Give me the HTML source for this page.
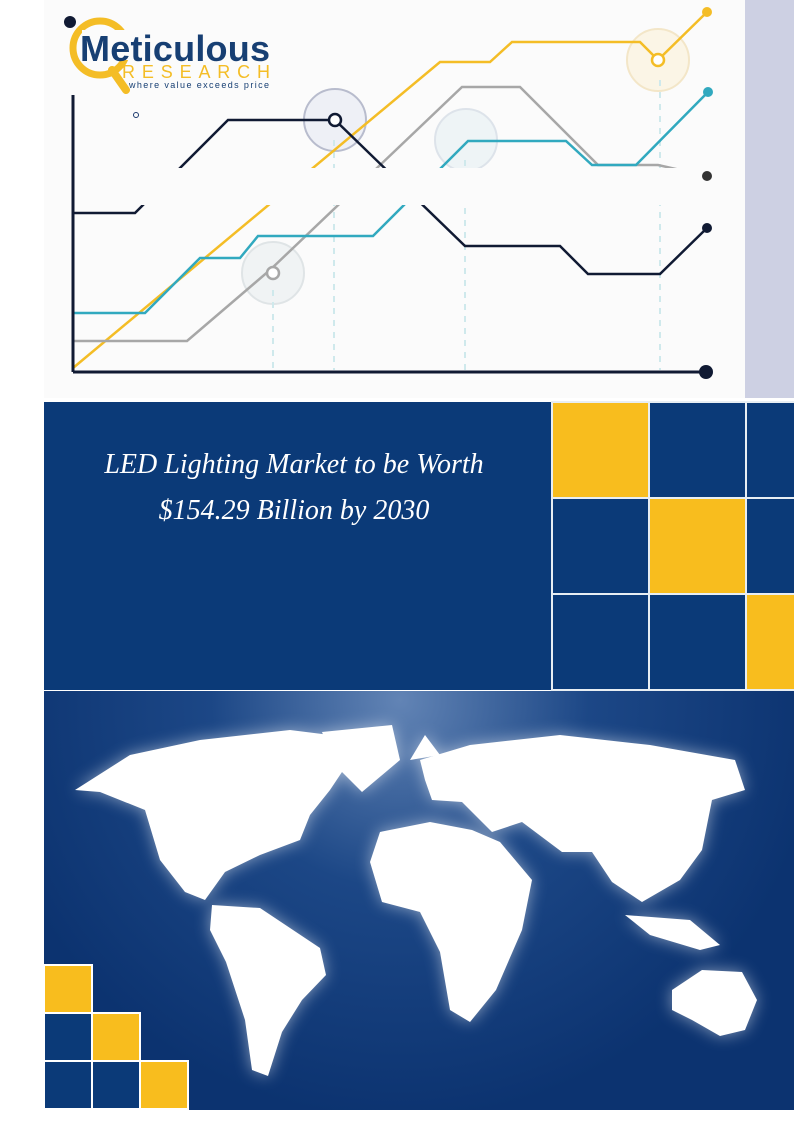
<!DOCTYPE html>
<html><head><meta charset="utf-8"><style>
html,body{margin:0;padding:0;background:#fff;}
body{width:794px;height:1123px;position:relative;overflow:hidden;font-family:"Liberation Sans",sans-serif;}
.abs{position:absolute;}
</style></head><body>
<div class="abs" style="left:44px;top:0;width:701px;height:398px;background:#fbfbfb;"></div>
<div class="abs" style="left:745px;top:0;width:49px;height:398px;background:#cdd0e3;"></div>
<svg class="abs" style="left:0;top:0" width="794" height="400">
 <g fill="none" stroke-width="2">
  <circle cx="335" cy="120" r="31" fill="#eef0f6" stroke="#b8bccd"/>
  <circle cx="466" cy="140" r="31" fill="#eef4f6" stroke="#dde3ea"/>
  <circle cx="658" cy="60" r="31" fill="#fbf5e6" stroke="#f3e6c8"/>
  <circle cx="273" cy="273" r="31" fill="#f0f3f4" stroke="#dfe4e6"/>
  <g stroke="#cfe9ec" stroke-dasharray="6,6">
   <line x1="273" y1="290" x2="273" y2="370"/><line x1="334" y1="140" x2="334" y2="370"/>
   <line x1="465" y1="160" x2="465" y2="370"/><line x1="660" y1="80" x2="660" y2="370"/>
  </g>
  <polyline stroke="#f4bd26" stroke-width="2.5" points="73,368 440,62 490,62 512,42 640,42 658,60 707,12"/>
  <polyline stroke="#a7a7a7" stroke-width="2.5" points="73,341 187,341 270,270 462,87 520,87 598,165 658,165 707,176"/>
  <polyline stroke="#31a9bf" stroke-width="2.5" points="73,313 145,313 200,258 240,258 258,236 373,236 468,141 566,141 592,165 636,165 708,92"/>
  <polyline stroke="#101a33" stroke-width="2.5" points="73,213 135,213 228,120 335,120 465,246 560,246 588,274 660,274 707,228"/>
  <line x1="73" y1="95" x2="73" y2="372" stroke="#101a33" stroke-width="3"/>
  <line x1="73" y1="372" x2="706" y2="372" stroke="#101a33" stroke-width="3"/>
 </g>
 <rect x="88" y="168" width="615" height="37" fill="#fbfbfb"/>
 <circle cx="335" cy="120" r="6" fill="#fff" stroke="#101a33" stroke-width="2.5"/>
 <circle cx="658" cy="60" r="6" fill="#fff" stroke="#f4bd26" stroke-width="2.5"/>
 <circle cx="273" cy="273" r="6" fill="#fff" stroke="#a7a7a7" stroke-width="2.5"/>
 <circle cx="707" cy="12" r="5" fill="#f4bd26"/><circle cx="708" cy="92" r="5" fill="#31a9bf"/>
 <circle cx="707" cy="176" r="5" fill="#333"/><circle cx="707" cy="228" r="5" fill="#101a33"/>
 <circle cx="706" cy="372" r="7" fill="#101a33"/>
 <circle cx="136" cy="115" r="2.5" fill="none" stroke="#1c3a6e"/>
 <circle cx="70" cy="22" r="6" fill="#101a33"/>
 <circle cx="100" cy="48" r="27" fill="none" stroke="#f4bd26" stroke-width="7"/>
 <line x1="112" y1="70" x2="126" y2="90" stroke="#f4bd26" stroke-width="8" stroke-linecap="round"/>
 <rect x="82" y="30" width="190" height="30" fill="#fbfbfb"/>
 <text x="80" y="61" font-family="Liberation Sans" font-weight="bold" font-size="36" textLength="190" fill="#173f73">Meticulous</text>
 <text x="122" y="78" font-family="Liberation Sans" font-size="18" textLength="148" fill="#f4bd26">RESEARCH</text>
 <text x="129" y="88" font-family="Liberation Sans" font-size="9" textLength="140" fill="#173f73">where value exceeds price</text>
</svg>
<div class="abs" style="left:44px;top:402px;width:750px;height:288px;background:#0b3a78;"></div>
<div class="abs" style="left:44px;top:402px;width:500px;text-align:center;color:#fff;font-family:'Liberation Serif',serif;font-style:italic;font-size:28px;line-height:46px;padding-top:40px;">LED Lighting Market to be Worth<br>$154.29 Billion by 2030</div>
<svg class="abs" style="left:0;top:0" width="794" height="1123">
 <g stroke="#e8eef3" stroke-width="2">
  <rect x="552" y="402" width="97" height="96" fill="#f8bd1e"/><rect x="649" y="402" width="97" height="96" fill="#0b3a78"/><rect x="746" y="402" width="50" height="96" fill="#0b3a78"/>
  <rect x="552" y="498" width="97" height="96" fill="#0b3a78"/><rect x="649" y="498" width="97" height="96" fill="#f8bd1e"/><rect x="746" y="498" width="50" height="96" fill="#0b3a78"/>
  <rect x="552" y="594" width="97" height="96" fill="#0b3a78"/><rect x="649" y="594" width="97" height="96" fill="#0b3a78"/><rect x="746" y="594" width="50" height="96" fill="#f8bd1e"/>
 </g>
 <defs>
  <radialGradient id="g" cx="400" cy="700" r="420" gradientUnits="userSpaceOnUse">
   <stop offset="0" stop-color="#6284b5"/><stop offset="0.45" stop-color="#1c4786"/><stop offset="1" stop-color="#0c3370"/>
  </radialGradient>
  <filter id="f" x="-20%" y="-20%" width="140%" height="140%"><feGaussianBlur stdDeviation="8"/></filter>
 </defs>
 <rect x="44" y="691" width="750" height="419" fill="url(#g)"/>
 <g id="map" fill="#fff">
  <polygon points="75,790 130,755 200,740 290,730 330,735 350,760 330,790 310,815 300,840 260,855 225,872 205,900 185,892 160,860 145,810 100,792"/>
  <polygon points="322,732 392,725 400,760 362,792 335,765"/>
  <polygon points="212,905 260,908 320,948 326,975 302,1000 282,1032 268,1076 252,1070 245,1020 226,962 210,930"/>
  <polygon points="420,760 470,745 560,735 650,745 735,760 745,790 712,800 702,850 680,880 642,902 612,882 592,852 562,852 522,822 492,832 462,802 432,800 425,780"/>
  <polygon points="380,832 430,822 472,830 500,842 532,880 522,930 496,990 470,1022 450,1010 440,952 420,912 382,902 370,862"/>
  <polygon points="672,990 702,970 742,972 757,1000 745,1030 720,1036 692,1020 672,1010"/>
  <polygon points="625,915 690,920 720,945 700,950 650,935"/>
  <polygon points="410,760 425,735 440,755"/>
 </g>
 <use href="#map" filter="url(#f)" opacity="0.5"/>
 <g stroke="#fff" stroke-width="2">
  <rect x="44" y="965" width="48" height="48" fill="#f8bd1e"/>
  <rect x="44" y="1013" width="48" height="48" fill="#0b3a78"/><rect x="92" y="1013" width="48" height="48" fill="#f8bd1e"/>
  <rect x="44" y="1061" width="48" height="48" fill="#0b3a78"/><rect x="92" y="1061" width="48" height="48" fill="#0b3a78"/><rect x="140" y="1061" width="48" height="48" fill="#f8bd1e"/>
 </g>
</svg>
</body></html>
